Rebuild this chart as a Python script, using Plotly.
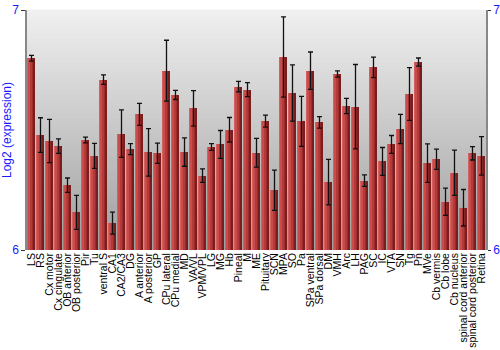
import plotly.graph_objects as go

categories = ["LS", "RS", "Cx motor", "Cx cingulate", "OB anterior", "OB posterior", "Pir", "Tu",
              "ventral S", "CA1", "CA2/CA3", "DG", "A anterior", "A posterior", "GP", "CPu lateral",
              "CPu medial", "MD", "VA/VL", "VPM/VPL", "LG", "MG", "Hb", "Pineal", "M", "ME",
              "Pituitary", "SCN", "MPA", "SO", "Pa", "SPa ventral", "SPa dorsal", "DM", "VMH", "Arc",
              "LH", "PAG", "SC", "IC", "VTA", "SN", "Tg", "Pn", "MVe", "Cb vermis", "Cb lobe",
              "Cb nucleus", "spinal cord anterior", "spinal cord posterior", "Retina"]

values = [6.799, 6.479, 6.454, 6.433, 6.270, 6.157, 6.458, 6.392,
          6.710, 6.112, 6.485, 6.420, 6.565, 6.407, 6.403, 6.747,
          6.646, 6.408, 6.590, 6.310, 6.429, 6.440, 6.501, 6.681, 6.668, 6.405,
          6.537, 6.249, 6.804, 6.654, 6.536, 6.747, 6.532, 6.283, 6.733, 6.600,
          6.597, 6.289, 6.761, 6.369, 6.440, 6.504, 6.650, 6.783, 6.362, 6.378, 6.201,
          6.322, 6.176, 6.403, 6.392]

errors = [0.012, 0.072, 0.090, 0.030, 0.030, 0.071, 0.012, 0.052,
          0.020, 0.046, 0.099, 0.023, 0.046, 0.099, 0.042, 0.127,
          0.019, 0.059, 0.074, 0.028, 0.014, 0.058, 0.051, 0.022, 0.029, 0.060,
          0.025, 0.084, 0.167, 0.117, 0.104, 0.078, 0.024, 0.095, 0.013, 0.032,
          0.176, 0.024, 0.043, 0.058, 0.037, 0.061, 0.110, 0.017, 0.080, 0.042, 0.057,
          0.094, 0.076, 0.028, 0.080]

y_ticks = [6, 7]
blue = "#1a1aff"

fig = go.Figure()

# bar body drawn as overlaid strips to mimic horizontal shading
strips = [(-0.44, 0.88, "#b43a3a"),
          (-0.44, 0.12, "#d46060"),
          (-0.32, 0.16, "#c84c4c"),
          (0.10, 0.16, "#9c2c2c"),
          (0.26, 0.18, "#7c1d1d")]
for i, (off, w, col) in enumerate(strips):
    fig.add_trace(go.Bar(
        x=categories, y=[v - 6 for v in values], base=6,
        offset=off, width=w, marker=dict(color=col, line=dict(width=0)),
        showlegend=False, hoverinfo="skip" if i else None,
    ))

fig.add_trace(go.Scatter(
    x=categories, y=values, mode="markers",
    marker=dict(size=1, color="rgba(0,0,0,0)"),
    error_y=dict(type="data", array=errors, color="#111111", thickness=1.3, width=2.5),
    showlegend=False,
))

fig.add_trace(go.Scatter(x=[categories[0]], y=[6.5], yaxis="y2", mode="markers",
                         marker=dict(color="rgba(0,0,0,0)"), showlegend=False, hoverinfo="skip"))

# gray vertical gradient background
n = 60
shapes = []
for k in range(n):
    t = k / (n - 1)
    g = int(240 - t * 80)
    shapes.append(dict(type="rect", xref="x domain", yref="y domain",
                       x0=0, x1=1, y0=1 - (k + 1) / n, y1=1 - k / n + 0.001,
                       fillcolor=f"rgb({g},{g},{g})", line=dict(width=0), layer="below"))

fig.update_layout(
    width=500, height=350,
    margin=dict(l=27, r=14, t=10, b=100),
    paper_bgcolor="white", plot_bgcolor="rgba(0,0,0,0)",
    barmode="overlay", bargap=0,
    font=dict(family="Liberation Sans, Arial, sans-serif", size=11, color="black"),
    shapes=shapes,
    xaxis=dict(type="category", tickangle=-90, tickfont=dict(size=10.5, color="black"),
               tickmode="array", tickvals=categories, ticktext=categories, automargin=False,
               showgrid=False, showline=False, ticks="", range=[-0.5, len(categories) - 0.5]),
    yaxis=dict(range=[6, 7], tickvals=y_ticks, ticktext=[str(t) for t in y_ticks],
               tickfont=dict(size=12, color=blue), showgrid=False, zeroline=False,
               showline=True, linecolor="#888888", linewidth=1.5, ticks="outside",
               ticklen=4, tickcolor="#333333", automargin=False,
               title=dict(text="Log2 (expression)", font=dict(size=12, color=blue), standoff=2)),
    yaxis2=dict(range=[6, 7], tickvals=y_ticks, overlaying="y", side="right",
                tickfont=dict(size=12, color=blue), showgrid=False, zeroline=False,
                showline=True, linecolor="#888888", linewidth=1.5, ticks="outside",
                ticklen=3, tickcolor="#333333", automargin=False),
)

fig.write_html("out.html")
